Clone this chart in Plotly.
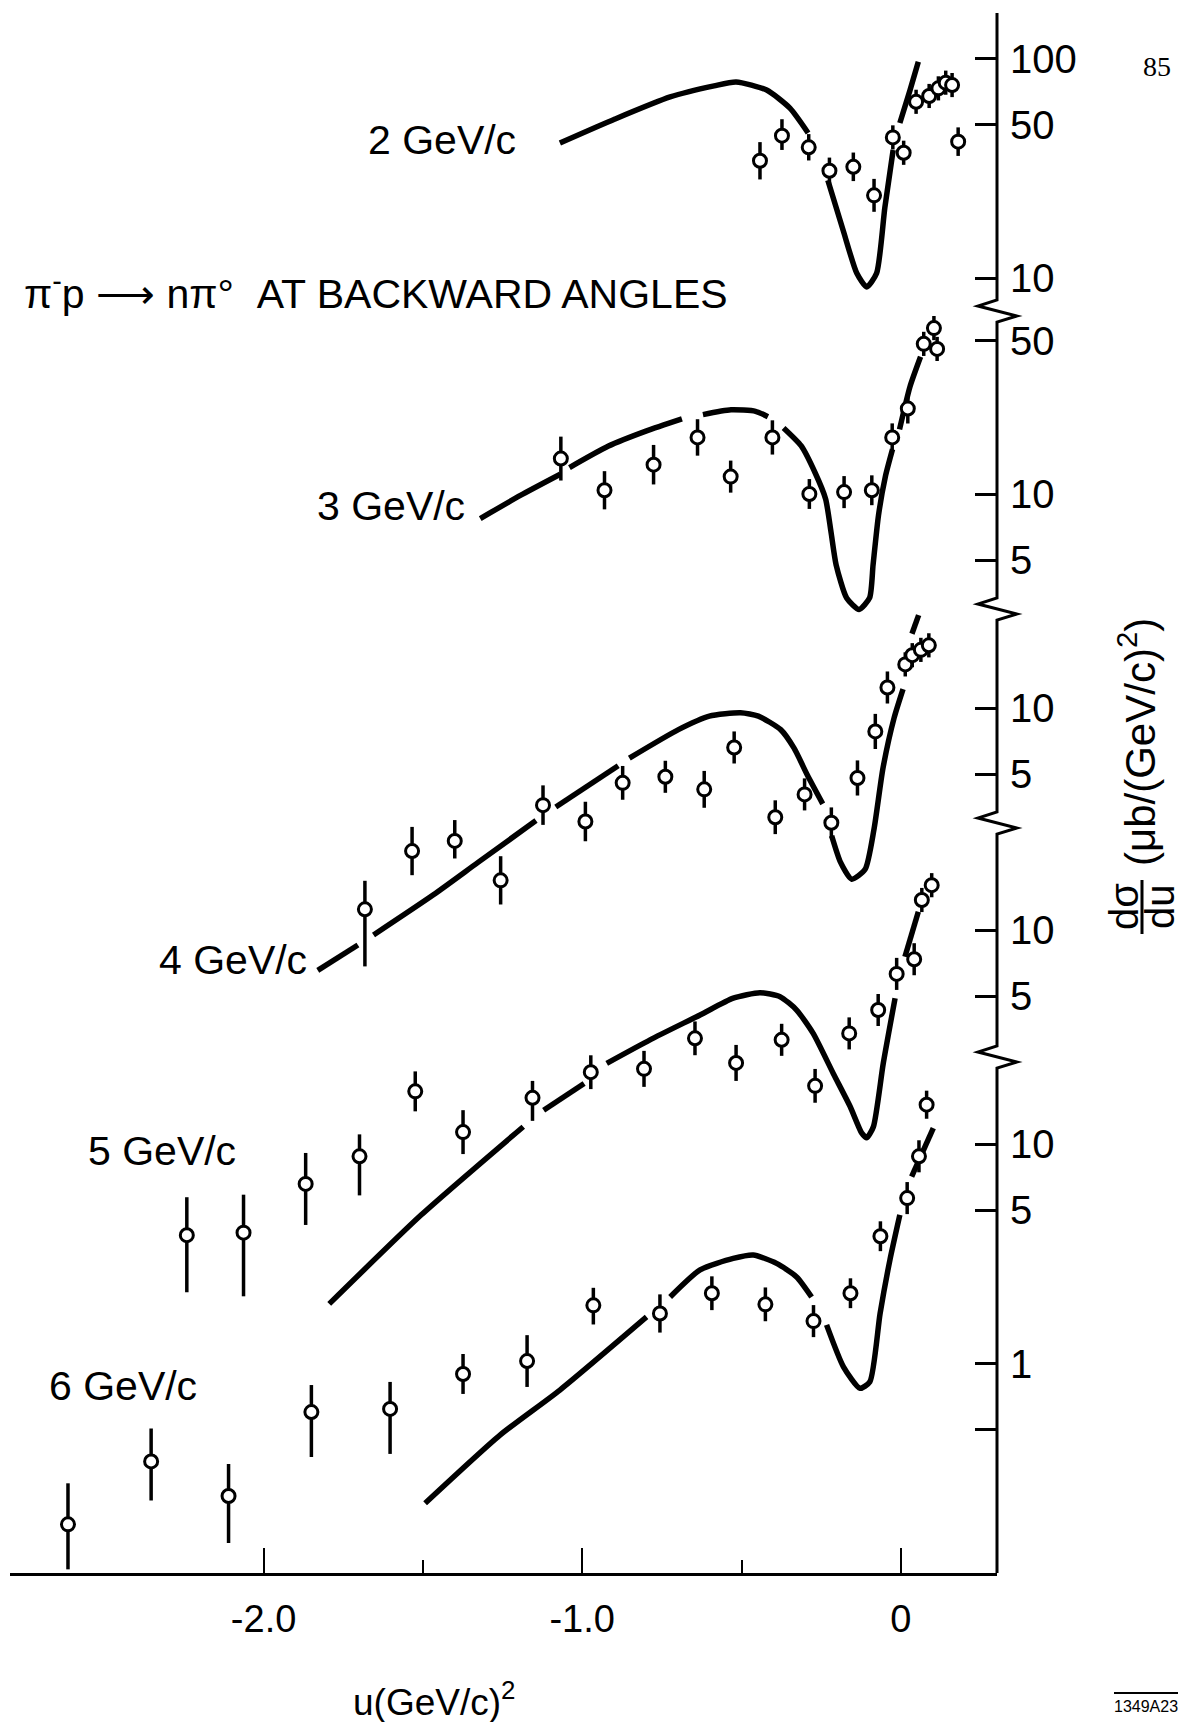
import plotly.graph_objects as go

# ---------------- data ----------------
# u in (GeV/c)^2, dsigma/du in microbarn/(GeV/c)^2 ; errors in decades (log10) up / down
# None in a curve marks a gap left by the draughtsman where the curve crosses a data point
u_2 = [-0.442, -0.373, -0.289, -0.224, -0.149, -0.084, -0.025, 0.009, 0.048, 0.089, 0.118, 0.141, 0.161, 0.180]
v_2 = [34.2, 44.5, 39.4, 30.8, 32.1, 23.8, 43.7, 37.2, 63.5, 67.5, 73.1, 77.6, 75.7, 41.8]
eu_2 = [0.085, 0.075, 0.06, 0.06, 0.065, 0.075, 0.055, 0.055, 0.055, 0.055, 0.055, 0.055, 0.055, 0.065]
ed_2 = [0.085, 0.065, 0.06, 0.06, 0.065, 0.075, 0.055, 0.055, 0.055, 0.055, 0.055, 0.055, 0.055, 0.065]
cu_2 = [-1.070, -0.897, -0.724, -0.586, -0.517, -0.421, -0.348, -0.291, None, -0.229, -0.181, -0.138, -0.107,
        -0.076, -0.050, -0.024, None, -0.003, 0.029, 0.055]
cv_2 = [41.2, 53.0, 66.8, 75.0, 78.2, 71.8, 59.4, 45.8, None, 27.9, 16.5, 10.5, 9.1, 10.5, 21.0, 38.3, None,
        50.8, 71.8, 96.6]

u_3 = [-1.067, -0.930, -0.776, -0.638, -0.534, -0.403, -0.287, -0.178, -0.091, -0.027, 0.022, 0.072, 0.104, 0.114]
v_3 = [14.5, 10.4, 13.6, 18.1, 12.0, 18.1, 10.0, 10.2, 10.4, 18.1, 24.5, 48.3, 57.0, 45.8]
eu_3 = [0.10, 0.087, 0.09, 0.083, 0.073, 0.078, 0.068, 0.073, 0.068, 0.064, 0.068, 0.055, 0.055, 0.055]
ed_3 = [0.10, 0.087, 0.09, 0.083, 0.073, 0.078, 0.068, 0.073, 0.068, 0.064, 0.068, 0.055, 0.055, 0.055]
cu_3 = [-1.320, -1.194, -1.069, None, -1.040, -0.919, -0.798, -0.687, None, -0.621, -0.533, -0.456, -0.417, None,
        -0.368, -0.313, -0.269, -0.236, -0.219, -0.203, -0.170, -0.131, -0.098, -0.087, -0.070, -0.048, -0.026,
        None, -0.004, 0.029, 0.062]
cv_3 = [7.73, 9.85, 12.3, None, 13.2, 16.5, 19.4, 22.0, None, 23.0, 24.2, 23.8, 22.5, None, 20.0, 16.6, 12.5,
        9.5, 6.7, 4.76, 3.36, 2.98, 3.36, 4.76, 8.0, 12.1, 16.0, None, 19.7, 30.9, 42.2]

u_4 = [-1.682, -1.534, -1.400, -1.256, -1.123, -0.990, -0.873, -0.739, -0.617, -0.523, -0.394, -0.302, -0.218,
       -0.136, -0.080, -0.042, 0.014, 0.036, 0.063, 0.088]
v_4 = [1.21, 2.23, 2.48, 1.64, 3.61, 3.04, 4.56, 4.86, 4.26, 6.61, 3.18, 4.04, 3.00, 4.80, 7.82, 12.4, 15.8, 17.4,
       18.4, 19.3]
eu_4 = [0.13, 0.11, 0.095, 0.11, 0.09, 0.09, 0.077, 0.073, 0.084, 0.073, 0.077, 0.073, 0.07, 0.08, 0.08, 0.073,
        0.055, 0.055, 0.055, 0.055]
ed_4 = [0.26, 0.11, 0.08, 0.11, 0.09, 0.09, 0.077, 0.073, 0.084, 0.073, 0.077, 0.073, 0.07, 0.08, 0.08, 0.073,
        0.055, 0.055, 0.055, 0.055]
cu_4 = [-1.830, -1.704, None, -1.655, -1.467, -1.327, -1.145, None, -1.083, -0.887, None, -0.852, -0.698, -0.601,
        -0.503, -0.447, -0.377, -0.335, -0.293, -0.245, None, -0.217, -0.189, -0.154, -0.112, -0.084, -0.056,
        -0.021, 0.007, None, 0.035, 0.056]
cv_4 = [0.638, 0.832, None, 0.925, 1.41, 1.98, 3.07, None, 3.54, 5.46, None, 5.91, 7.97, 9.18, 9.51, 9.18, 7.97,
        6.56, 4.94, 3.66, None, 2.62, 1.98, 1.66, 1.84, 2.81, 5.31, 9.02, 12.2, None, 21.8, 26.5]

u_5 = [-2.241, -2.063, -1.868, -1.699, -1.524, -1.374, -1.156, -0.973, -0.806, -0.646, -0.517, -0.374, -0.269,
       -0.162, -0.071, -0.013, 0.042, 0.066, 0.097]
v_5 = [0.407, 0.418, 0.697, 0.931, 1.84, 1.20, 1.72, 2.25, 2.33, 3.21, 2.48, 3.16, 1.95, 3.38, 4.32, 6.31, 7.36,
       13.7, 16.0]
eu_5 = [0.173, 0.173, 0.141, 0.10, 0.091, 0.10, 0.077, 0.077, 0.082, 0.077, 0.082, 0.073, 0.077, 0.073, 0.073,
        0.073, 0.073, 0.055, 0.055]
ed_5 = [0.26, 0.29, 0.187, 0.178, 0.091, 0.10, 0.105, 0.077, 0.082, 0.077, 0.082, 0.073, 0.077, 0.073, 0.073,
        0.073, 0.073, 0.055, 0.055]
cu_5 = [-1.794, -1.505, -1.185, None, -1.121, -0.994, None, -0.923, -0.787, -0.630, -0.526, -0.442, -0.379,
        -0.327, -0.275, -0.212, -0.159, -0.123, -0.107, -0.086, -0.055, -0.018, None, 0.013, 0.055]
cv_5 = [0.198, 0.504, 1.27, None, 1.51, 2.00, None, 2.47, 3.16, 4.10, 4.89, 5.18, 4.97, 4.32, 3.38, 2.22, 1.57,
        1.19, 1.13, 1.27, 2.47, 4.89, None, 7.55, 12.1]

u_6 = [-2.614, -2.353, -2.110, -1.850, -1.603, -1.374, -1.173, -0.965, -0.756, -0.593, -0.425, -0.274, -0.158,
       -0.064, 0.020, 0.057, 0.081]
v_6 = [0.185, 0.358, 0.249, 0.601, 0.621, 0.896, 1.026, 1.84, 1.69, 2.09, 1.86, 1.56, 2.09, 3.80, 5.67, 8.79, 15.1]
eu_6 = [0.187, 0.15, 0.146, 0.123, 0.123, 0.091, 0.118, 0.08, 0.087, 0.077, 0.077, 0.073, 0.068, 0.068, 0.073,
        0.073, 0.064]
ed_6 = [0.205, 0.178, 0.214, 0.205, 0.205, 0.091, 0.118, 0.087, 0.087, 0.077, 0.077, 0.073, 0.068, 0.068, 0.073,
        0.073, 0.064]
cu_6 = [-1.493, -1.258, -1.070, -0.798, None, -0.724, -0.630, -0.526, -0.463, -0.390, -0.327, -0.280, None,
        -0.233, -0.180, -0.128, -0.097, -0.065, -0.034, -0.003, None, 0.034, 0.102]
cv_6 = [0.231, 0.472, 0.757, 1.63, None, 2.01, 2.67, 3.01, 3.12, 2.86, 2.48, 2.01, None, 1.50, 0.966, 0.771,
        0.826, 1.69, 2.97, 4.75, None, 7.10, 11.8]

panel_labels = ["2 GeV/c", "3 GeV/c", "4 GeV/c", "5 GeV/c", "6 GeV/c"]
panel_tickvals = [[100, 50, 10], [50, 10, 5], [10, 5], [10, 5], [10, 5, 1, 0.5]]
panel_ticktext = [["100", "50", "10"], ["50", "10", "5"], ["10", "5"], ["10", "5"], ["10", "5", "1", ""]]
x_tickvals = [-2, -1, 0]
x_ticktext = ["-2.0", "-1.0", "0"]
x_minorvals = [-1.5, -0.5]

panels = [
    (u_2, v_2, eu_2, ed_2, cu_2, cv_2),
    (u_3, v_3, eu_3, ed_3, cu_3, cv_3),
    (u_4, v_4, eu_4, ed_4, cu_4, cv_4),
    (u_5, v_5, eu_5, ed_5, cu_5, cv_5),
    (u_6, v_6, eu_6, ed_6, cu_6, cv_6),
]

# ---------------- geometry (page pixels) ----------------
PAGE_W, PAGE_H = 1193, 1722
OFF = 8                                   # default body margin of the html page
W, H = PAGE_W - OFF, PAGE_H - OFF         # figure size
X_LEFT, X_RIGHT = 10, 997
Y_TOP, Y_BOT = 13, 1573
X_AT_U0, PX_PER_U = 900.8, 318.6
PX_PER_DEC = 219.5
Y10 = [278, 494, 708, 930, 1144]          # page row of the value 10 in each panel
BREAKS = [311, 609, 823, 1057]             # axis-break centres
LABEL_POS = [(442, 140), (391, 506), (233, 960), (162, 1151), (123, 1386)]
FONT = "Liberation Sans, Arial, sans-serif"


def px(x):
    return (x - OFF) / W


def py(y):
    return 1 - (y - OFF) / H


fig = go.Figure()

for i, (u, v, eu, ed, cu, cv) in enumerate(panels):
    yname = "y" if i == 0 else f"y{i + 1}"
    fig.add_trace(go.Scatter(
        x=cu, y=cv, mode="lines", yaxis=yname, hoverinfo="skip", connectgaps=False,
        line=dict(color="black", width=5.5, shape="spline", smoothing=0.6)))
    plus = [val * (10 ** a - 1) for val, a in zip(v, eu)]
    minus = [val * (1 - 10 ** (-b)) for val, b in zip(v, ed)]
    fig.add_trace(go.Scatter(
        x=u, y=v, mode="markers", yaxis=yname,
        marker=dict(symbol="circle", size=13, color="white", line=dict(color="black", width=3)),
        error_y=dict(type="data", symmetric=False, array=plus, arrayminus=minus,
                     color="black", thickness=3.5, width=0)))

u_left = (X_LEFT - X_AT_U0) / PX_PER_U
u_right = (X_RIGHT - X_AT_U0) / PX_PER_U
ydom = [py(Y_BOT), py(Y_TOP)]

layout = dict(
    width=W, height=H, margin=dict(l=0, r=0, t=0, b=0),
    paper_bgcolor="white", plot_bgcolor="white", showlegend=False,
    font=dict(family=FONT, color="black"),
    xaxis=dict(domain=[px(X_LEFT), px(X_RIGHT)], range=[u_left, u_right], anchor="y",
               showline=True, linecolor="black", linewidth=3, showgrid=False, zeroline=False,
               ticks="inside", ticklen=25, tickwidth=2, tickcolor="black",
               tickmode="array", tickvals=x_tickvals, ticktext=x_ticktext,
               tickfont=dict(size=38, family=FONT), ticklabelstandoff=10,
               minor=dict(tickmode="array", tickvals=x_minorvals, ticks="inside", ticklen=13,
                          tickwidth=2, tickcolor="black", showgrid=False)),
)

for i in range(5):
    key = "yaxis" if i == 0 else f"yaxis{i + 1}"
    rng = [1 + (Y10[i] - Y_BOT) / PX_PER_DEC, 1 + (Y10[i] - Y_TOP) / PX_PER_DEC]
    ax = dict(domain=ydom, type="log", range=rng, side="right", anchor="x",
              showline=False, showgrid=False, zeroline=False,
              ticks="inside", ticklen=22, tickwidth=2.5, tickcolor="black",
              tickmode="array", tickvals=panel_tickvals[i], ticktext=panel_ticktext[i],
              tickfont=dict(size=40, family=FONT), ticklabelstandoff=12)
    if i > 0:
        ax["overlaying"] = "y"
    layout[key] = ax

fig.update_layout(**layout)

# right axis line with zig-zag breaks
path = f"M {px(X_RIGHT)},{py(Y_TOP)}"
for b in BREAKS:
    path += (f" L {px(X_RIGHT)},{py(b - 11)} L {px(X_RIGHT - 19)},{py(b - 5)}"
             f" L {px(X_RIGHT + 20)},{py(b + 5)} L {px(X_RIGHT)},{py(b + 11)}")
path += f" L {px(X_RIGHT)},{py(Y_BOT)}"
shapes = [dict(type="path", path=path, xref="paper", yref="paper",
               line=dict(color="black", width=3))]
# fraction bar of dσ/du and overline of the figure number
shapes.append(dict(type="line", xref="paper", yref="paper", x0=px(1142), x1=px(1142),
                   y0=py(880), y1=py(934), line=dict(color="black", width=3)))
shapes.append(dict(type="line", xref="paper", yref="paper", x0=px(1114), x1=px(1178),
                   y0=py(1693), y1=py(1693), line=dict(color="black", width=2)))
fig.update_layout(shapes=shapes)

ann = []
for lab, (x, y) in zip(panel_labels, LABEL_POS):
    ann.append(dict(text=lab, x=px(x), y=py(y), xref="paper", yref="paper", showarrow=False,
                    xanchor="center", yanchor="middle", font=dict(size=41, family=FONT)))
ann.append(dict(text="π<sup>-</sup>p ⟶ nπ°  AT BACKWARD ANGLES", x=px(22), y=py(291),
                xref="paper", yref="paper", showarrow=False, xanchor="left", yanchor="middle",
                font=dict(size=41, family=FONT)))
ann.append(dict(text="u(GeV/c)<sup>2</sup>", x=px(434), y=py(1699), xref="paper", yref="paper",
                showarrow=False, xanchor="center", yanchor="middle", font=dict(size=37, family=FONT)))
ann.append(dict(text="1349A23", x=px(1146), y=py(1706), xref="paper", yref="paper",
                showarrow=False, xanchor="center", yanchor="middle", font=dict(size=16, family=FONT)))
ann.append(dict(text="85", x=px(1157), y=py(66), xref="paper", yref="paper", showarrow=False,
                xanchor="center", yanchor="middle",
                font=dict(size=28, family="Liberation Serif, Times New Roman, serif")))
ann.append(dict(text="dσ", x=px(1124), y=py(907), xref="paper", yref="paper", showarrow=False,
                textangle=-90, xanchor="center", yanchor="middle", font=dict(size=40, family=FONT)))
ann.append(dict(text="du", x=px(1160), y=py(907), xref="paper", yref="paper", showarrow=False,
                textangle=-90, xanchor="center", yanchor="middle", font=dict(size=40, family=FONT)))
ann.append(dict(text="(μb/(GeV/c)<sup>2</sup>)", x=px(1137), y=py(742), xref="paper", yref="paper",
                showarrow=False, textangle=-90, xanchor="center", yanchor="middle",
                font=dict(size=42, family=FONT)))
fig.update_layout(annotations=ann)

fig.write_html("out.html")
